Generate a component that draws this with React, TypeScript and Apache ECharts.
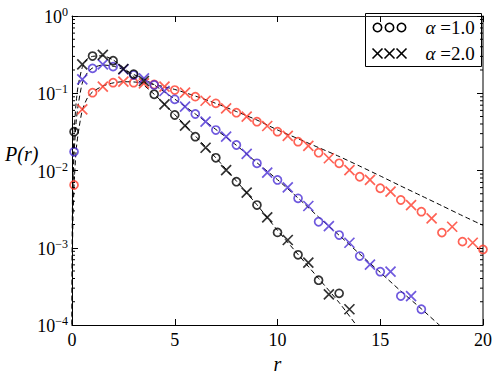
import React, { useEffect, useRef } from 'react';
import * as echarts from 'echarts';

const FONT = 'Liberation Serif';
const BLACK = '#000000';
const BLUE = '#4b30d6';
const RED = '#ff3b2b';

// ---- data ----
const blackCircleR = [0.1, 1, 2, 3, 4, 5, 6, 7, 8, 9, 10, 11, 12, 13];
const blackCircleP = [0.0318, 0.303, 0.264, 0.177, 0.0969, 0.0523, 0.0274, 0.0146, 0.00716, 0.00357, 0.00158, 0.00081, 0.00038, 0.000257];
const blackCrossR = [0.5, 1.5, 2.5, 3.5, 4.5, 5.5, 6.5, 7.5, 8.5, 9.5, 10.5, 11.5, 12.5, 13.5];
const blackCrossP = [0.237, 0.313, 0.206, 0.144, 0.0719, 0.038, 0.0197, 0.0101, 0.00516, 0.00248, 0.00126, 0.00064, 0.000249, 0.00016];

const blueCircleR = [0.1, 1, 2, 3, 4, 5, 6, 7, 8, 9, 10, 11, 12, 13, 14, 15, 16, 17];
const blueCircleP = [0.0175, 0.21, 0.221, 0.172, 0.128, 0.0834, 0.0539, 0.0334, 0.0214, 0.0124, 0.00754, 0.00436, 0.00217, 0.00146, 0.00078, 0.00049, 0.000237, 0.00016];
const blueCrossR = [0.5, 1.5, 2.5, 3.5, 4.5, 5.5, 6.5, 7.5, 8.5, 9.5, 10.5, 11.5, 12.5, 13.5, 14.5, 15.5, 16.5];
const blueCrossP = [0.151, 0.237, 0.204, 0.156, 0.107, 0.067, 0.0428, 0.0274, 0.0164, 0.00937, 0.00606, 0.00347, 0.00191, 0.00116, 0.000603, 0.00049, 0.000237];

const redCircleR = [0.1, 1, 2, 3, 4, 5, 6, 7, 8, 9, 10, 11, 12, 13, 14, 15, 16, 17, 18, 19, 20];
const redCircleP = [0.00649, 0.1017, 0.137, 0.137, 0.13, 0.11, 0.0903, 0.074, 0.056, 0.0428, 0.0318, 0.0236, 0.017, 0.0124, 0.0083, 0.00589, 0.00415, 0.00293, 0.00157, 0.0012, 0.00095];
const redCrossR = [0.5, 1.5, 2.5, 3.5, 4.5, 5.5, 6.5, 7.5, 8.5, 9.5, 10.5, 11.5, 12.5, 13.5, 14.5, 15.5, 16.5, 17.5, 18.5, 19.5];
const redCrossP = [0.062, 0.1216, 0.141, 0.134, 0.1215, 0.1017, 0.08, 0.0638, 0.0497, 0.0377, 0.028, 0.0208, 0.0144, 0.0101, 0.00754, 0.00532, 0.00357, 0.0024, 0.00187, 0.00116];

// dashed reference curves
const blackFitR = [0.004, 0.02, 0.05, 0.1, 0.2, 0.3, 0.5, 0.75, 1, 1.5, 2, 2.5, 3, 4, 5, 6, 7, 8, 9, 10, 11, 12, 13, 14];
const blackFitP = [0.00008, 0.004, 0.013, 0.03, 0.075, 0.125, 0.215, 0.28, 0.3, 0.305, 0.27, 0.215, 0.165, 0.097, 0.053, 0.028, 0.0146, 0.0073, 0.0036, 0.00168, 0.00082, 0.0004, 0.000195, 0.000087];
const blueFitR = [0.004, 0.02, 0.05, 0.1, 0.2, 0.3, 0.5, 0.75, 1, 1.5, 2, 2.5, 3, 3.5, 4, 5, 6, 7, 8, 9, 10, 11, 12, 13, 14, 15, 16, 17, 18];
const blueFitP = [0.00005, 0.002, 0.007, 0.016, 0.042, 0.07, 0.135, 0.185, 0.212, 0.232, 0.224, 0.203, 0.175, 0.153, 0.128, 0.084, 0.054, 0.034, 0.0212, 0.0126, 0.0076, 0.0044, 0.0025, 0.00145, 0.00083, 0.00048, 0.000275, 0.000162, 0.000093];
const redFitR = [0.004, 0.02, 0.05, 0.1, 0.2, 0.3, 0.5, 0.75, 1, 1.5, 2, 2.5, 3, 3.5, 4, 5, 6, 7, 8, 9, 10, 11, 12, 13, 14, 15, 16, 17, 18, 19, 20];
const redFitP = [0.00003, 0.0008, 0.0025, 0.0065, 0.018, 0.03, 0.06, 0.087, 0.104, 0.124, 0.136, 0.141, 0.14, 0.136, 0.13, 0.112, 0.092, 0.074, 0.058, 0.045, 0.0335, 0.0258, 0.0198, 0.0152, 0.0114, 0.0085, 0.0063, 0.0047, 0.0035, 0.0026, 0.00195];

const xTicks = [0, 5, 10, 15, 20];
const yMin = 1e-4;
const yMax = 1;
const minorTicks = [
  2e-4, 3e-4, 4e-4, 5e-4, 6e-4, 7e-4, 8e-4, 9e-4,
  2e-3, 3e-3, 4e-3, 5e-3, 6e-3, 7e-3, 8e-3, 9e-3,
  2e-2, 3e-2, 4e-2, 5e-2, 6e-2, 7e-2, 8e-2, 9e-2,
  2e-1, 3e-1, 4e-1, 5e-1, 6e-1, 7e-1, 8e-1, 9e-1,
];
const legendLabels = ['1.0', '2.0'];
const yAxisTitle = 'P(r)';
const xAxisTitle = 'r';

const CROSS = 'path://M0,0L10,10M10,0L0,10';

function pairs(r: number[], p: number[]) {
  return r.map((x, i) => [x, p[i]]);
}

function circleSeries(name: string, color: string, r: number[], p: number[]) {
  return {
    type: 'scatter',
    name,
    data: pairs(r, p),
    symbol: 'circle',
    symbolSize: 8,
    itemStyle: { color: 'rgba(0,0,0,0)', borderColor: color, borderWidth: 1.7 },
    z: 3,
    silent: true,
  };
}
function crossSeries(name: string, color: string, r: number[], p: number[]) {
  return {
    type: 'scatter',
    name,
    data: pairs(r, p),
    symbol: CROSS,
    symbolSize: 10,
    itemStyle: { color: 'rgba(0,0,0,0)', borderColor: color, borderWidth: 1.7 },
    z: 3,
    silent: true,
  };
}
function fitSeries(name: string, r: number[], p: number[]) {
  return {
    type: 'line',
    name,
    data: pairs(r, p),
    showSymbol: false,
    symbol: 'none',
    smooth: 0.25,
    clip: true,
    lineStyle: { color: BLACK, width: 1, type: [5, 3] },
    z: 2,
    silent: true,
  };
}

function supLabel(v: number) {
  const e = Math.round(Math.log10(v));
  const s = (e < 0 ? '\u2212' : '') + Math.abs(e);
  return `{b|10}{s|${s}}`;
}

const legendText = (label: string, y: number) => ({
  type: 'text',
  x: 60,
  y,
  style: {
    text: `{i|\u03b1} =${label}`,
    verticalAlign: 'middle',
    fill: BLACK,
    font: `19px ${FONT}`,
    rich: { i: { font: `italic 19px ${FONT}`, fontFamily: FONT, fontStyle: 'italic', fontSize: 19, fill: BLACK } },
  },
});

export default function App() {
  const ref = useRef<HTMLDivElement>(null);
  useEffect(() => {
    if (!ref.current) return;
    const chart = echarts.init(ref.current, null, { renderer: 'svg' });
    const option: any = {
      animation: false,
      backgroundColor: '#ffffff',
      grid: { left: 72, right: 16, top: 16, bottom: 53, containLabel: false, outerBoundsMode: 'none' },
      xAxis: [
        {
          type: 'value',
          min: xTicks[0],
          max: xTicks[xTicks.length - 1],
          interval: 5,
          position: 'bottom',
          axisLine: { show: true, onZero: false, lineStyle: { color: BLACK, width: 1 } },
          axisTick: { show: true, inside: true, length: 6, lineStyle: { color: BLACK } },
          axisLabel: { show: true, margin: 6, color: BLACK, fontFamily: FONT, fontSize: 18 },
          splitLine: { show: false },
          name: xAxisTitle,
          nameLocation: 'middle',
          nameGap: 26,
          nameTextStyle: { fontFamily: FONT, fontStyle: 'italic', fontSize: 20, color: BLACK },
        },
        {
          type: 'value',
          min: xTicks[0],
          max: xTicks[xTicks.length - 1],
          interval: 5,
          position: 'top',
          axisLine: { show: true, onZero: false, lineStyle: { color: '#222', width: 1 } },
          axisTick: { show: true, inside: true, length: 6, lineStyle: { color: BLACK } },
          axisLabel: { show: false },
          splitLine: { show: false },
        },
      ],
      yAxis: [
        {
          type: 'log',
          logBase: 10,
          min: yMin,
          max: yMax,
          position: 'left',
          axisLine: { show: true, onZero: false, lineStyle: { color: BLACK, width: 1 } },
          axisTick: { show: true, inside: true, length: 6, lineStyle: { color: BLACK } },
          axisLabel: {
            show: true,
            margin: 4,
            formatter: supLabel,
            fontFamily: FONT,
            rich: {
              b: { fontFamily: FONT, fontSize: 18, color: BLACK, verticalAlign: 'bottom' },
              s: { fontFamily: FONT, fontSize: 12, color: BLACK, verticalAlign: 'bottom', padding: [0, 0, 8, 0] },
            },
          },
          splitLine: { show: false },
        },
        {
          type: 'log',
          logBase: 10,
          min: yMin,
          max: yMax,
          position: 'right',
          axisLine: { show: true, onZero: false, lineStyle: { color: '#555', width: 1.5 } },
          axisTick: { show: true, inside: true, length: 6, lineStyle: { color: BLACK } },
          axisLabel: { show: false },
          splitLine: { show: false },
        },
      ],
      series: [
        fitSeries('fit black', blackFitR, blackFitP),
        fitSeries('fit blue', blueFitR, blueFitP),
        fitSeries('fit red', redFitR, redFitP),
        circleSeries('\u03b1 =1.0 red', RED, redCircleR, redCircleP),
        crossSeries('\u03b1 =2.0 red', RED, redCrossR, redCrossP),
        circleSeries('\u03b1 =1.0 blue', BLUE, blueCircleR, blueCircleP),
        crossSeries('\u03b1 =2.0 blue', BLUE, blueCrossR, blueCrossP),
        circleSeries('\u03b1 =1.0 black', BLACK, blackCircleR, blackCircleP),
        crossSeries('\u03b1 =2.0 black', BLACK, blackCrossR, blackCrossP),
        {
          type: 'custom',
          name: 'minor ticks',
          silent: true,
          clip: false,
          data: minorTicks.map((v) => [xTicks[0], v]),
          encode: { x: 0, y: 1 },
          renderItem: (params: any, api: any) => {
            const v = api.value(1);
            const pl = api.coord([xTicks[0], v]);
            const pr = api.coord([xTicks[xTicks.length - 1], v]);
            return {
              type: 'group',
              children: [
                { type: 'line', shape: { x1: pl[0], y1: pl[1], x2: pl[0] + 3, y2: pl[1] }, style: { stroke: BLACK, lineWidth: 1 } },
                { type: 'line', shape: { x1: pr[0], y1: pr[1], x2: pr[0] - 3, y2: pr[1] }, style: { stroke: BLACK, lineWidth: 1 } },
              ],
            };
          },
          z: 4,
        },
      ],
      graphic: [
        {
          type: 'text',
          x: 5,
          y: 154,
          z: 100,
          style: {
            text: yAxisTitle,
            verticalAlign: 'middle',
            align: 'left',
            fill: BLACK,
            font: `italic 20px ${FONT}`,
          },
        },
        {
          type: 'group',
          left: 365,
          top: 13,
          z: 100,
          children: [
            { type: 'rect', shape: { x: 0, y: 0, width: 116, height: 53 }, style: { fill: '#ffffff', stroke: BLACK, lineWidth: 1 } },
            { type: 'circle', shape: { cx: 12, cy: 14, r: 4.2 }, style: { fill: 'none', stroke: BLACK, lineWidth: 1.6 } },
            { type: 'circle', shape: { cx: 24, cy: 14, r: 4.2 }, style: { fill: 'none', stroke: BLACK, lineWidth: 1.6 } },
            { type: 'circle', shape: { cx: 36, cy: 14, r: 4.2 }, style: { fill: 'none', stroke: BLACK, lineWidth: 1.6 } },
            { type: 'line', shape: { x1: 7, y1: 35, x2: 17, y2: 45 }, style: { stroke: BLACK, lineWidth: 1.6 } },
            { type: 'line', shape: { x1: 17, y1: 35, x2: 7, y2: 45 }, style: { stroke: BLACK, lineWidth: 1.6 } },
            { type: 'line', shape: { x1: 19, y1: 35, x2: 29, y2: 45 }, style: { stroke: BLACK, lineWidth: 1.6 } },
            { type: 'line', shape: { x1: 29, y1: 35, x2: 19, y2: 45 }, style: { stroke: BLACK, lineWidth: 1.6 } },
            { type: 'line', shape: { x1: 31, y1: 35, x2: 41, y2: 45 }, style: { stroke: BLACK, lineWidth: 1.6 } },
            { type: 'line', shape: { x1: 41, y1: 35, x2: 31, y2: 45 }, style: { stroke: BLACK, lineWidth: 1.6 } },
            legendText(legendLabels[0], 14),
            legendText(legendLabels[1], 40),
          ],
        },
      ],
    };
    chart.setOption(option);
    return () => chart.dispose();
  }, []);
  return (
    <div
      ref={ref}
      style={{ position: 'fixed', left: 0, top: 0, width: 499, height: 378, background: '#ffffff' }}
    />
  );
}
